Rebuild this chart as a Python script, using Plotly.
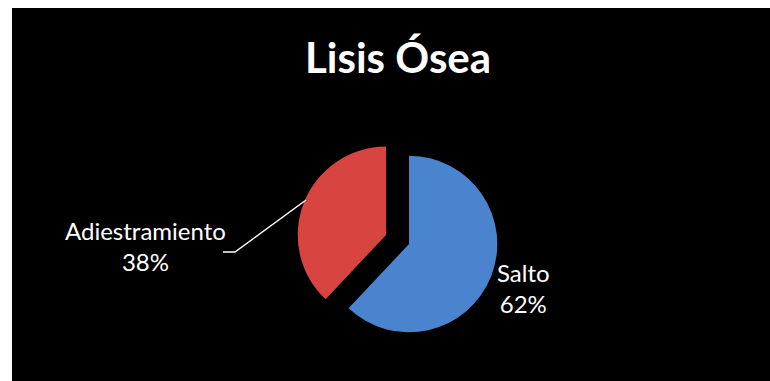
import plotly.graph_objects as go

title = "Lisis Ósea"
labels = ["Salto", "Adiestramiento"]
values = [62, 38]
colors = ["#4a84cf", "#d8443f"]
pulls = [0, 0.28]

W, H = 770, 381
def px(x): return x / W
def py(y): return 1 - y / H

total = sum(values)
pct = [round(v * 100 / total) for v in values]

fig = go.Figure(go.Pie(
    labels=labels, values=values, sort=False, direction="clockwise", rotation=0,
    pull=pulls, marker=dict(colors=colors, line=dict(width=0)),
    textinfo="none", hoverinfo="label+percent", showlegend=False,
    domain=dict(x=[px(296), px(522)], y=[py(357), py(131)]),
))

shapes = [
    dict(type="rect", xref="paper", yref="paper", x0=px(12), x1=1, y0=0, y1=py(8),
         fillcolor="black", line=dict(width=0), layer="below"),
    dict(type="path", xref="paper", yref="paper",
         path=f"M {px(306)} {py(200)} L {px(235)} {py(252)} L {px(223)} {py(252)}",
         line=dict(color="white", width=1.5)),
]

annotations = [
    dict(text=f"<b>{title}</b>", x=px(398), y=py(57), xref="paper", yref="paper",
         showarrow=False, xanchor="center", yanchor="middle",
         font=dict(family="Lato", size=42, color="white")),
    dict(text=f"{labels[1]}<br>{pct[1]}%", x=px(145), y=py(246), xref="paper", yref="paper",
         showarrow=False, xanchor="center", yanchor="middle",
         font=dict(family="Lato", size=24, color="white")),
    dict(text=f"{labels[0]}<br>{pct[0]}%", x=px(523), y=py(288), xref="paper", yref="paper",
         showarrow=False, xanchor="center", yanchor="middle",
         font=dict(family="Lato", size=24, color="white")),
]

fig.update_layout(
    width=W, height=H, margin=dict(l=0, r=0, t=0, b=0),
    paper_bgcolor="white", plot_bgcolor="white",
    shapes=shapes, annotations=annotations,
)

fig.write_html("out.html")
